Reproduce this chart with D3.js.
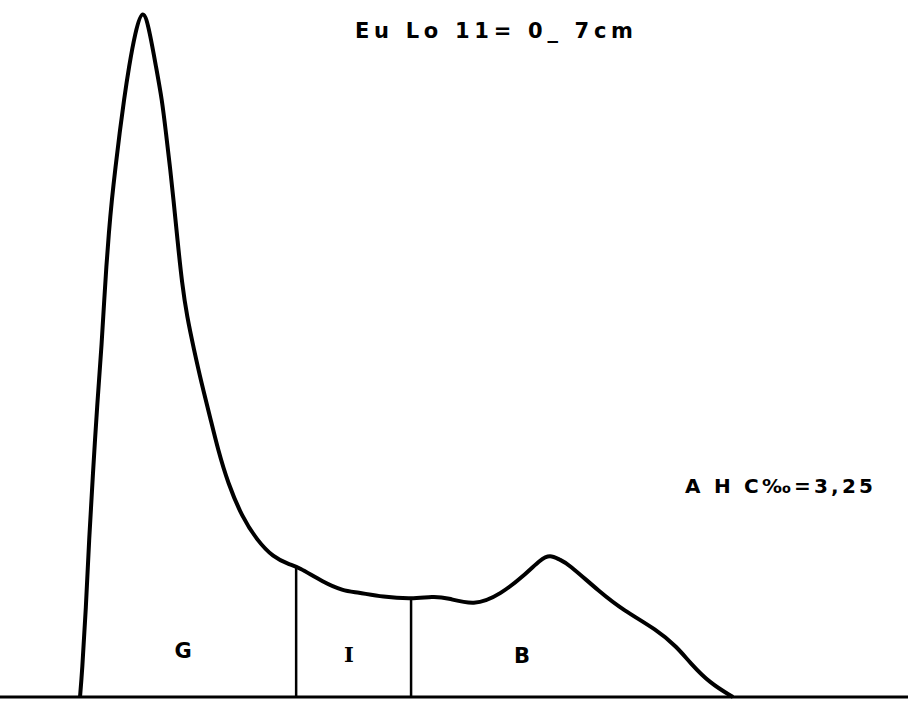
<!DOCTYPE html>
<html><head><meta charset="utf-8">
<script src="https://cdn.jsdelivr.net/npm/d3@7"></script>
<style>html,body{margin:0;padding:0;background:#fff;}svg{display:block;}</style>
</head><body>
<svg id="c" width="908" height="705"></svg>
<script>
// Densitometric profile (relative mobility 0-100, relative intensity 0-100)
const mobility = [0,0.31,0.92,1.38,1.99,2.60,3.37,3.71,4.03,4.41,4.87,5.44,6.06,6.74,7.50,8.42,9.65,10.72,11.64,12.56,13.17,13.78,14.32,14.93,15.62,16.39,17.46,18.61,19.91,21.13,22.66,24.81,27.11,29.56,32.16,33.38,37.21,40.28,42.42,46.40,50.84,54.06,56.20,60.34,64.32,68.45,70.44,71.98,73.51,74.58,79.63,83.15,88.36,91.42,93.42,96.48,100];
const intensity = [0,3.5,13.1,22.9,32.7,42.3,52.1,58.0,62.8,67.7,72.6,77.4,82.3,87.2,92.0,96.9,101,96.9,92.0,87.2,82.3,77.4,72.6,66.7,60.4,55.5,50.7,45.8,40.9,36.1,31.2,26.3,22.9,20.4,19.3,19.0,16.8,15.5,15.3,14.6,14.3,14.7,14.5,13.3,14.9,18.1,20.0,20.8,20.0,19.6,15.3,12.7,9.8,7.3,5.0,2.0,0];
const fractionNames = ["G","I","B"];
const fractionCenters = [15.8, 41.2, 67.7];
const fractionBounds = [33.1, 50.7];
const title = "Eu Lo 11= 0_ 7cm";
const note = "A H C\u2030=3,25";

const svg = d3.select("#c");
const x = d3.scaleLinear().domain([0,100]).range([80,733]);
const y = d3.scaleLinear().domain([0,100]).range([697,12]);
const pts = mobility.map((m,i)=>[m,intensity[i]]);
const interp = v => { for(let i=1;i<mobility.length;i++){ if(v<=mobility[i]){const t=(v-mobility[i-1])/(mobility[i]-mobility[i-1]);return intensity[i-1]+t*(intensity[i]-intensity[i-1]);} } return 0; };

// baseline
svg.append("line").attr("x1",0).attr("x2",908).attr("y1",y(0)).attr("y2",y(0))
  .attr("stroke","#000").attr("stroke-width",3);

// dividers
svg.selectAll(".div").data(fractionBounds).join("line")
  .attr("x1",d=>x(d)).attr("x2",d=>x(d)).attr("y1",d=>y(interp(d))).attr("y2",y(0))
  .attr("stroke","#000").attr("stroke-width",2.5);

// curve
svg.append("path").datum(pts)
  .attr("d", d3.line().x(d=>x(d[0])).y(d=>y(d[1])).curve(d3.curveBasis))
  .attr("fill","none").attr("stroke","#000").attr("stroke-width",4).attr("stroke-linejoin","round");

// fraction labels
svg.selectAll(".lab").data(fractionNames).join("text")
  .attr("x",(d,i)=>x(fractionCenters[i])).attr("y",(d,i)=>[658,662,663][i])
  .attr("text-anchor","middle")
  .attr("font-family",d=>d==="I"?"DejaVu Serif":"DejaVu Sans")
  .attr("font-weight","bold").attr("font-size",21).text(d=>d);

// title
svg.append("text").attr("x",355).attr("y",38).attr("textLength",278).attr("lengthAdjust","spacing")
  .attr("font-family","DejaVu Sans").attr("font-weight","bold").attr("font-size",21).text(title);

// note
svg.append("text").attr("x",685).attr("y",493).attr("textLength",188).attr("lengthAdjust","spacing")
  .attr("font-family","DejaVu Sans").attr("font-weight","bold").attr("font-size",20).text(note);
</script>
</body></html>
